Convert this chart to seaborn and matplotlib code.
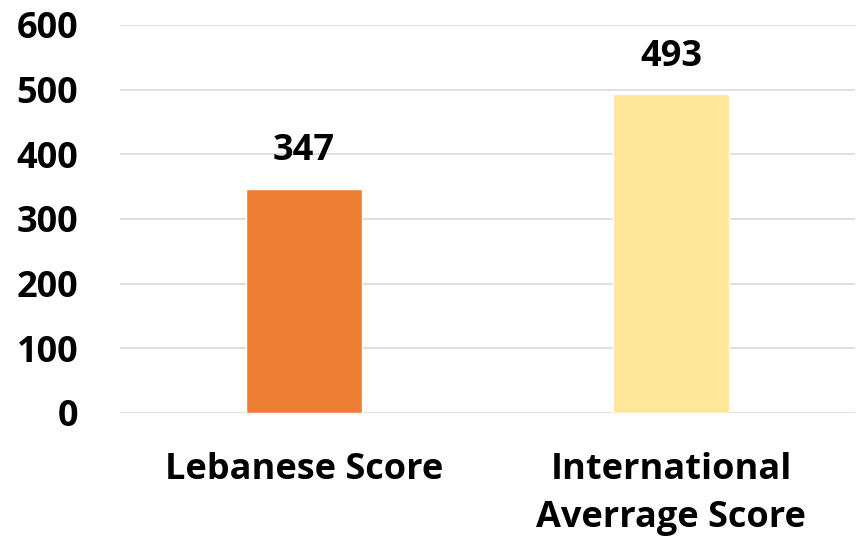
import matplotlib
matplotlib.use("Agg")
import matplotlib.pyplot as plt
import seaborn as sns
import pandas as pd

categories = ["Lebanese Score", "International\nAverrage Score"]
scores = [347, 493]
colors = ["#ED7D31", "#FFE699"]
yticks = [0, 100, 200, 300, 400, 500, 600]

sns.set_theme(style="white")
plt.rcParams['font.family'] = ['Open Sans', 'DejaVu Sans']

df = pd.DataFrame({"category": categories, "score": scores})

fig = plt.figure(figsize=(8.56, 5.48), dpi=100)
ax = fig.add_axes([120/856, (548-413)/548, (855-120)/856, (413-25)/548])

sns.barplot(data=df, x="category", y="score", hue="category", palette=colors,
            width=0.315, legend=False, ax=ax, saturation=1)

ax.set_ylim(0, 600)
ax.set_yticks(yticks)
ax.set_xlim(-0.5, 1.5)
ax.yaxis.grid(True, color="#D9D9D9", linewidth=1.2)
ax.set_axisbelow(True)
for s in ax.spines.values():
    s.set_visible(False)
ax.set_xlabel("")
ax.set_ylabel("")
ax.tick_params(axis="y", length=0, pad=30, labelsize=26)
ax.tick_params(axis="x", length=0, pad=28, labelsize=26)
for lbl in ax.get_yticklabels() + ax.get_xticklabels():
    lbl.set_fontweight("bold")
    lbl.set_color("black")
for lbl in ax.get_xticklabels():
    lbl.set_linespacing(1.45)

for c in ax.containers:
    ax.bar_label(c, fmt="%d", padding=14, fontsize=26, fontweight="bold", color="black")

fig.savefig("out.png", dpi=100)
